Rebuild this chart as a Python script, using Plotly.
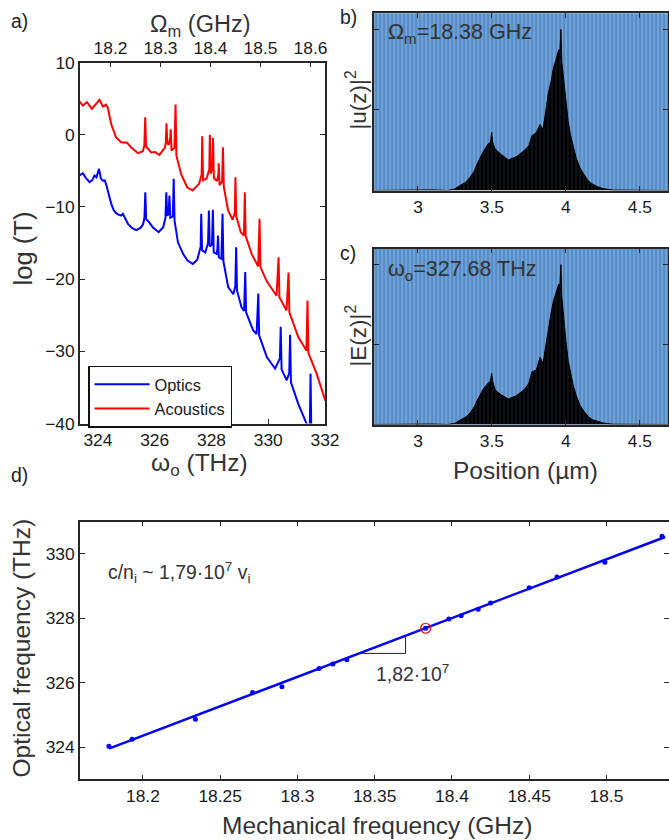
import plotly.graph_objects as go

# ---------------- Panel a: transmission spectra ----------------
opt_freq_thz = [323.35, 323.47, 323.58, 323.71, 323.80, 323.88, 323.95, 323.99, 324.04, 324.10,
                324.16, 324.21, 324.24, 324.30, 324.40, 324.47, 324.55, 324.64, 324.74, 324.82,
                324.88, 324.97, 325.06, 325.20, 325.35, 325.50, 325.59, 325.64, 325.67, 325.70,
                325.80, 325.95, 326.14, 326.30, 326.38, 326.41, 326.44, 326.49, 326.52, 326.55,
                326.64, 326.67, 326.70, 326.82, 327.00, 327.15, 327.34, 327.50, 327.62, 327.64,
                327.67, 327.78, 327.88, 327.91, 327.94, 328.02, 328.05, 328.08, 328.18, 328.21,
                328.23, 328.26, 328.35, 328.39, 328.42, 328.59, 328.77, 328.84, 328.87, 328.90,
                329.06, 329.15, 329.19, 329.22, 329.47, 329.59, 329.65, 329.68, 329.95, 330.24,
                330.41, 330.44, 330.47, 330.65, 330.74, 330.77, 330.80, 331.06, 331.35, 331.46,
                331.49, 331.52]
opt_logT = [-5.65, -5.33, -6.0, -6.58, -6.3, -5.65, -5.9, -5.3, -4.72, -6.0,
            -6.34, -6.4, -6.25, -7.0, -8.6, -9.57, -10.4, -10.87, -11.1, -11.19,
            -10.96, -11.7, -12.34, -12.9, -13.2, -12.9, -12.4, -11.5, -7.96, -11.7,
            -12.1, -12.9, -13.5, -12.8, -11.5, -7.96, -11.2, -11.0, -8.42, -11.5,
            -11.3, -6.11, -11.9, -14.9, -16.5, -17.4, -17.9, -17.3, -15.5, -10.96,
            -16.0, -16.3, -15.0, -10.5, -15.5, -15.2, -10.4, -16.3, -16.5, -15.8,
            -13.96, -17.0, -17.2, -10.96, -17.5, -21.1, -22.1, -21.0, -15.6, -21.6,
            -23.9, -24.4, -19.0, -24.6, -27.1, -27.6, -22.0, -27.8, -30.8, -32.4,
            -31.0, -26.6, -32.5, -34.0, -33.0, -27.7, -34.3, -37.3, -40.0, -41.5,
            -33.1, -42.0]

ac_freq_ghz = [18.138, 18.1445, 18.153, 18.1627, 18.178, 18.1848, 18.191, 18.1945, 18.2013, 18.211,
               18.2211, 18.233, 18.241, 18.2546, 18.2648, 18.2677, 18.2694, 18.2711, 18.2813, 18.2892,
               18.2977, 18.3091, 18.3108, 18.3119, 18.3136, 18.3165, 18.3193, 18.3204, 18.3221, 18.3278,
               18.3301, 18.3318, 18.3414, 18.3534, 18.3641, 18.3772, 18.3823, 18.3834, 18.3851, 18.3919,
               18.3976, 18.3987, 18.4004, 18.4038, 18.405, 18.4067, 18.413, 18.4158, 18.4164, 18.4181,
               18.4232, 18.4249, 18.4266, 18.4351, 18.4442, 18.4487, 18.4498, 18.4515, 18.4606, 18.4669,
               18.4686, 18.4703, 18.4822, 18.4953, 18.4981, 18.4998, 18.5117, 18.5321, 18.5361, 18.5378,
               18.552, 18.556, 18.5577, 18.5753, 18.5918, 18.594, 18.5957, 18.6122, 18.6286, 18.635]
ac_logT = [4.64, 4.04, 4.5, 3.58, 4.83, 3.9, 4.18, 3.8, 1.5, -0.35,
           -1.04, -1.1, -1.73, -2.55, -2.29, -1.5, 2.42, -1.6, -2.45, -2.4,
           -2.8, -1.73, -1.0, 1.6, -1.2, -1.4, -0.5, 0.75, -2.2, -1.8,
           4.18, -2.9, -5.5, -7.27, -7.73, -6.8, -5.5, -0.2, -6.3, -6.1,
           -4.8, 0.0, -5.4, -4.5, -0.43, -6.0, -6.4, -5.5, -3.95, -7.0,
           -6.5, -1.73, -7.2, -10.5, -11.75, -10.8, -5.88, -11.3, -13.5, -13.96,
           -7.96, -14.0, -16.5, -18.25, -11.65, -18.3, -20.2, -22.3, -16.97, -22.5,
           -24.35, -19.1, -24.6, -28.0, -29.9, -22.96, -30.2, -33.1, -36.6, -37.4]

omega_ticks = [324, 326, 328, 330, 332]
Omega_ticks = [18.2, 18.3, 18.4, 18.5, 18.6]
logT_ticks = [-40, -30, -20, -10, 0, 10]

# ---------------- Panels b, c: field profiles (envelopes) ----------------
pos_um = [2.70, 2.95, 3.0, 3.05, 3.1, 3.2, 3.25, 3.28, 3.32, 3.35,
          3.38, 3.40, 3.44, 3.475, 3.49, 3.498, 3.505, 3.52, 3.555, 3.61,
          3.665, 3.72, 3.75, 3.77, 3.80, 3.825, 3.845, 3.865, 3.88, 3.90,
          3.915, 3.935, 3.95, 3.96, 3.966, 3.972, 3.985, 4.0, 4.015, 4.03,
          4.05, 4.07, 4.095, 4.12, 4.15, 4.18, 4.21, 4.25, 4.28, 4.32, 4.69]
u_sq = [0, 0.002, 0.006, 0.007, 0.004, 0.0, 0.01, 0.03, 0.05, 0.08,
        0.12, 0.165, 0.24, 0.29, 0.30, 0.36, 0.30, 0.26, 0.23, 0.19,
        0.21, 0.25, 0.28, 0.34, 0.36, 0.41, 0.38, 0.5, 0.6, 0.68,
        0.76, 0.82, 0.87, 0.88, 1.0, 0.80, 0.68, 0.55, 0.43, 0.35,
        0.27, 0.2, 0.14, 0.1, 0.06, 0.04, 0.025, 0.012, 0.008, 0.003, 0]
E_sq = [0, 0.002, 0.005, 0.006, 0.003, 0.0, 0.008, 0.025, 0.045, 0.07,
        0.11, 0.15, 0.22, 0.26, 0.27, 0.32, 0.27, 0.22, 0.19, 0.16,
        0.18, 0.22, 0.26, 0.33, 0.34, 0.42, 0.38, 0.5, 0.6, 0.7,
        0.77, 0.83, 0.875, 0.88, 1.0, 0.80, 0.66, 0.52, 0.40, 0.32,
        0.24, 0.18, 0.12, 0.085, 0.05, 0.03, 0.02, 0.01, 0.006, 0.002, 0]
pos_ticks = [3, 3.5, 4, 4.5]
pos_range = [2.703, 4.69]
profile_top = 1.1

# ---------------- Panel d: dispersion ----------------
mech_freq = [18.178, 18.193, 18.234, 18.271, 18.290, 18.314, 18.323, 18.332, 18.383,
             18.398, 18.406, 18.417, 18.425, 18.450, 18.468, 18.499, 18.536]
opt_freq = [324.03, 324.25, 324.87, 325.70, 325.88, 326.44, 326.58, 326.71, 327.69,
            327.98, 328.08, 328.28, 328.47, 328.95, 329.28, 329.74, 330.54]
sel_mech = [18.383]
sel_opt = [327.69]
fit_mech = [18.178, 18.538]
fit_opt = [323.96, 330.52]
tri_mech = [18.340, 18.370, 18.370]
tri_opt = [326.91, 326.91, 327.44]
mech_ticks = [18.2, 18.25, 18.3, 18.35, 18.4, 18.45, 18.5]
mech_ticktext = ["18.2", "18.25", "18.3", "18.35", "18.4", "18.45", "18.5"]
optf_ticks = [324, 326, 328, 330]

# ---------------- page geometry ----------------
# measured mapping between page pixels and the photographed picture
SX, SY, TY = 1.0225, 1.024, 9.45
W = 684
H = 851
FONT = "Arial, 'Liberation Sans', sans-serif"
TICKC = "#1a1a1a"
TXTC = "#333333"
AXC = "#262626"


def px(x):
    return min(1.0, x * SX / W)


def py(y):
    return min(1.0, 1 - (y - TY) * SY / H)


def fs(s):
    return round(s * SX, 1)


fig = go.Figure()

# panel a
fig.add_trace(go.Scatter(x=opt_freq_thz, y=opt_logT, mode="lines", name="Optics",
                         line=dict(color="#0000ff", width=2), xaxis="x", yaxis="y"))
fig.add_trace(go.Scatter(x=ac_freq_ghz, y=ac_logT, mode="lines", name="Acoustics",
                         line=dict(color="#ff0000", width=2), xaxis="x2", yaxis="y"))

# panels b, c : striped layer background + profile
for xa, ya, prof in (("x3", "y3", u_sq), ("x4", "y4", E_sq)):
    fig.add_trace(go.Bar(x=[(pos_range[0] + pos_range[1]) / 2], y=[profile_top],
                         width=[pos_range[1] - pos_range[0]], xaxis=xa, yaxis=ya,
                         showlegend=False, hoverinfo="skip",
                         marker=dict(color="#6a9fd6", line=dict(width=0),
                                     pattern=dict(shape="|", fgcolor="#4472a6", bgcolor="#6ba2da",
                                                  size=4, solidity=0.45))))
    fig.add_trace(go.Scatter(x=pos_um, y=prof, mode="lines", xaxis=xa, yaxis=ya,
                             showlegend=False, fill="tozeroy", fillcolor="black",
                             fillpattern=dict(shape="|", bgcolor="#000000", fgcolor="#22384f",
                                              size=4, solidity=0.3),
                             line=dict(color="black", width=1)))

# panel d
fig.add_trace(go.Scatter(x=fit_mech, y=fit_opt, mode="lines", xaxis="x5", yaxis="y5",
                         showlegend=False, line=dict(color="#0000ff", width=2.5)))
fig.add_trace(go.Scatter(x=mech_freq, y=opt_freq, mode="markers", xaxis="x5", yaxis="y5",
                         showlegend=False, cliponaxis=False,
                         marker=dict(color="#0000ff", size=5)))
fig.add_trace(go.Scatter(x=sel_mech, y=sel_opt, mode="markers", xaxis="x5", yaxis="y5",
                         showlegend=False,
                         marker=dict(symbol="circle-open", color="#ff0000", size=10,
                                     line=dict(width=1.2, color="#ff0000"))))
fig.add_trace(go.Scatter(x=tri_mech, y=tri_opt, mode="lines", xaxis="x5", yaxis="y5",
                         showlegend=False, line=dict(color="#222222", width=1)))

tickfont = dict(family=FONT, size=fs(17), color=TICKC)
common = dict(showgrid=False, zeroline=False, showline=True, linecolor=AXC, linewidth=1.6,
              ticks="inside", ticklen=5, tickwidth=1, tickcolor=AXC, tickfont=tickfont)

dom_a_x = [px(80), px(325)]
dom_a_y = [py(423), py(62)]
dom_bc_x = [px(374), px(668)]
dom_b_y = [py(190), py(12.7)]
dom_c_y = [py(424), py(248)]
dom_d_x = [px(80), px(669)]
dom_d_y = [py(779), py(521)]

fig.update_layout(
    width=W, height=H, margin=dict(l=0, r=0, t=0, b=0),
    paper_bgcolor="white", plot_bgcolor="white",
    font=dict(family=FONT, color=TXTC),
    bargap=0,
    xaxis=dict(domain=dom_a_x, anchor="y", range=[323.37, 332], tickvals=omega_ticks, **common),
    xaxis2=dict(overlaying="x", side="top", anchor="y", range=[18.139, 18.629],
                tickvals=Omega_ticks, **common),
    yaxis=dict(domain=dom_a_y, anchor="x", range=[-40, 10], tickvals=logT_ticks, mirror="ticks",
               **common),
    xaxis3=dict(domain=dom_bc_x, anchor="y3", range=pos_range, tickvals=pos_ticks, mirror="ticks",
                **common),
    yaxis3=dict(domain=dom_b_y, anchor="x3", range=[0, profile_top], tickvals=[0, 0.5, 1],
                showticklabels=False, mirror="ticks", **common),
    xaxis4=dict(domain=dom_bc_x, anchor="y4", range=pos_range, tickvals=pos_ticks, mirror="ticks",
                **common),
    yaxis4=dict(domain=dom_c_y, anchor="x4", range=[0, profile_top], tickvals=[0, 0.5, 1],
                showticklabels=False, mirror="ticks", **common),
    xaxis5=dict(domain=dom_d_x, anchor="y5", range=[18.1593, 18.5405], tickvals=mech_ticks,
                ticktext=mech_ticktext, mirror="ticks", **common),
    yaxis5=dict(domain=dom_d_y, anchor="x5", range=[323, 331], tickvals=optf_ticks,
                mirror="ticks", **common),
    legend=dict(x=px(88), y=py(365), xanchor="left", yanchor="top",
                bgcolor="white", bordercolor="#111111", borderwidth=1.5,
                font=dict(family=FONT, size=fs(16), color=TICKC), tracegroupgap=0,
                itemwidth=55),
)


def ann(text, x, y, size=18, xanchor="center", angle=0, color=TXTC):
    fig.add_annotation(text=text, x=px(x), y=py(y), xref="paper", yref="paper",
                       xanchor=xanchor, yanchor="middle", showarrow=False, textangle=angle,
                       font=dict(family=FONT, size=fs(size), color=color))


# panel letters
ann("a)", 9, 20, 19, "left", color="#222")
ann("b)", 338, 16, 19, "left", color="#222")
ann("c)", 338, 252, 19, "left", color="#222")
ann("d)", 9, 474, 19, "left", color="#222")

# axis titles
ann("Ω<sub>m</sub> (GHz)", 200, 25, 23)
ann("ω<sub>o</sub> (THz)", 199, 464, 24)
ann("log (T)", 23, 248, 25, angle=-90)
ann("|u(z)|<sup>2</sup>", 356, 100, 22, angle=-90)
ann("|E(z)|<sup>2</sup>", 356, 335, 22, angle=-90)
ann("Position (µm)", 525, 470, 24)
ann("Optical frequency (THz)", 22, 648, 24, angle=-90)
ann("Mechanical frequency (GHz)", 377, 825, 24)

# in-plot texts
ann("Ω<sub>m</sub>=18.38 GHz", 386, 33, 21, "left")
ann("ω<sub>o</sub>=327.68 THz", 386, 270, 21, "left")
ann("c/n<sub>i</sub> ~ 1,79·10<sup>7</sup> v<sub>i</sub>", 106, 572, 19, "left")
ann("1,82·10<sup>7</sup>", 374, 672, 19, "left")

fig.write_html("out.html", config={"displayModeBar": False},
               post_script="document.body.style.margin='0';document.body.style.overflow='hidden';")
